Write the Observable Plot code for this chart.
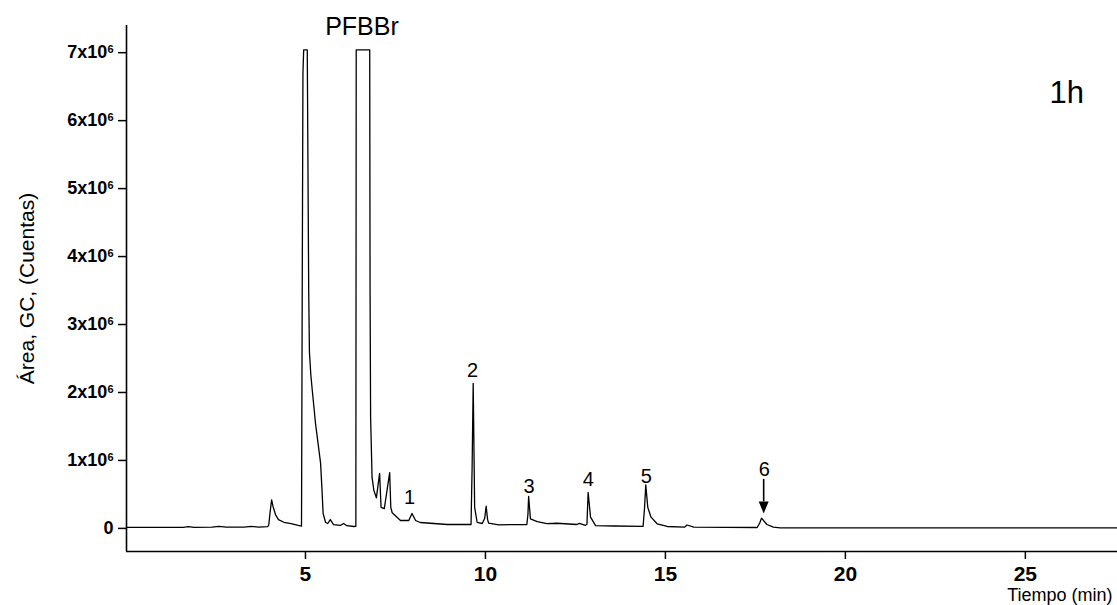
<!DOCTYPE html>
<html>
<head>
<meta charset="utf-8">
<script src="https://cdn.jsdelivr.net/npm/d3@7"></script>
<script src="https://cdn.jsdelivr.net/npm/@observablehq/plot@0.6"></script>
<style>
  html, body { margin: 0; padding: 0; background: white; }
  #chart svg { display: block; }
</style>
</head>
<body>
<div id="chart"></div>
<script>
// Retention time (min) and GC area signal (x10^6 counts)
const timeMin = [
  0.03, 1.0, 1.6, 1.75, 1.9, 2.4, 2.6, 2.8, 3.3, 3.5, 3.7, 3.95, 3.98, 4.02, 4.06, 4.10, 4.17, 4.25, 4.40, 4.60, 4.80, 4.89,
  4.91, 4.93, 4.95, 5.05, 5.09, 5.11, 5.15, 5.19, 5.28, 5.42, 5.46, 5.49, 5.56, 5.62, 5.69, 5.78, 5.97, 6.06, 6.15, 6.34, 6.40,
  6.41, 6.785, 6.795, 6.81, 6.85, 6.90, 6.97, 7.06, 7.10, 7.19, 7.34, 7.37, 7.41, 7.64, 7.87, 7.96, 8.06, 8.19, 8.94,
  9.60, 9.63, 9.66, 9.70, 9.77, 9.91, 9.98, 10.02, 10.06, 10.09, 10.37,
  11.15, 11.18, 11.20, 11.25, 11.44, 11.71, 11.99, 12.54, 12.61, 12.78,
  12.82, 12.853, 12.92, 13.06, 13.56,
  14.38, 14.42, 14.454, 14.51, 14.60, 14.77, 15.05, 15.53, 15.60, 15.79,
  17.55, 17.62, 17.67, 17.82, 18.0, 18.19, 27.56
];
const signalMillions = [
  0.015, 0.015, 0.015, 0.025, 0.015, 0.02, 0.03, 0.02, 0.02, 0.03, 0.02, 0.025, 0.05, 0.25, 0.42, 0.32, 0.20, 0.13, 0.09, 0.07, 0.045, 0.035,
  3.5, 6.7, 7.04, 7.04, 3.5, 2.6, 2.25, 2.03, 1.54, 0.96, 0.56, 0.22, 0.087, 0.072, 0.13, 0.057, 0.043, 0.072, 0.04, 0.028, 0.03,
  7.04, 7.04, 3.5, 1.63, 0.75, 0.56, 0.45, 0.81, 0.31, 0.29, 0.82, 0.31, 0.23, 0.116, 0.116, 0.22, 0.116, 0.087, 0.057,
  0.057, 0.9, 2.135, 0.31, 0.087, 0.072, 0.15, 0.326, 0.13, 0.076, 0.053,
  0.057, 0.2, 0.47, 0.14, 0.10, 0.07, 0.076, 0.057, 0.075, 0.045,
  0.06, 0.53, 0.165, 0.04, 0.035,
  0.03, 0.3, 0.64, 0.31, 0.165, 0.068, 0.028, 0.018, 0.05, 0.018,
  0.013, 0.08, 0.15, 0.057, 0.018, 0.009, 0.009
];

const xTicks = [5, 10, 15, 20, 25];
const yTicks = [0, 1, 2, 3, 4, 5, 6, 7];
const xDomain = [0.028, 27.56];
const yDomain = [-0.34, 7.4];

const peakLabels = ["1", "2", "3", "4", "5", "6"];
const peakLabelTimes = [7.89, 9.64, 11.21, 12.86, 14.47, 17.75];
const peakLabelValues = [0.366, 2.234, 0.528, 0.63, 0.675, 0.778];

const reagentLabel = "PFBBr";
const reagentLabelPos = [6.57, 7.26];
const runLabel = "1h";
const runLabelPos = [26.15, 6.26];

const arrowTime = 17.73;
const arrowTop = 0.72;
const arrowBase = 0.39;
const arrowTip = 0.22;

const yLabel = "Área, GC, (Cuentas)";
const yLabelCenter = 3.53;
const xLabel = "Tiempo (min)";

const trace = timeMin.map((t, i) => ({t, v: signalMillions[i]}));
const peaks = peakLabels.map((label, i) => ({label, t: peakLabelTimes[i], v: peakLabelValues[i]}));

const arrowHead = {
  draw(ctx) {
    ctx.moveTo(0, 0);
    ctx.lineTo(-5, -12);
    ctx.lineTo(5, -12);
    ctx.closePath();
  }
};

const font = "'Liberation Sans', Arial, Helvetica, sans-serif";

const chart = Plot.plot({
  width: 1117,
  height: 605,
  marginTop: 25,
  marginBottom: 54,
  marginLeft: 126,
  marginRight: 0,
  style: {fontFamily: font, background: "white", color: "black"},
  x: {domain: xDomain},
  y: {domain: yDomain},
  marks: [
    Plot.axisX({ticks: xTicks, tickSize: 8, tickPadding: 7, tickFormat: d => String(d),
      fontSize: 21, fontWeight: "bold", strokeWidth: 1.5, label: null}),
    Plot.axisY({ticks: yTicks, tickSize: 8, tickPadding: 5,
      tickFormat: d => d === 0 ? "0" : d + "x10^",
      fontSize: 18, fontWeight: "bold", strokeWidth: 1.5, label: null}),
    Plot.ruleX([xDomain[0]], {stroke: "black", strokeWidth: 1.6}),
    Plot.ruleY([yDomain[0]], {stroke: "black", strokeWidth: 1.6}),
    Plot.line(trace, {x: "t", y: "v", stroke: "black", strokeWidth: 1.3}),
    Plot.text(peaks, {x: "t", y: "v", text: "label", fontSize: 20, lineAnchor: "bottom", fill: "black"}),
    Plot.text([reagentLabel], {x: reagentLabelPos[0], y: reagentLabelPos[1], text: d => d, fontSize: 25, lineAnchor: "bottom", fill: "black"}),
    Plot.text([runLabel], {x: runLabelPos[0], y: runLabelPos[1], text: d => d, fontSize: 31, lineAnchor: "bottom", fill: "black"}),
    Plot.ruleX([arrowTime], {y1: arrowTop, y2: arrowBase, stroke: "black", strokeWidth: 1.6}),
    Plot.dot([arrowTime], {x: d => d, y: arrowTip, symbol: arrowHead, fill: "black", stroke: "none", r: 5}),
    Plot.text([yLabel], {frameAnchor: "left", y: yLabelCenter, text: d => d, rotate: -90, dx: -93,
      fontSize: 21, lineAnchor: "bottom", textAnchor: "middle", fill: "black"}),
    Plot.text([xLabel], {frameAnchor: "bottom-right", text: d => d, dx: -5, dy: 49,
      fontSize: 18, lineAnchor: "bottom", textAnchor: "end", fill: "black"})
  ]
});

// Render the exponent as a proper superscript
d3.select(chart).selectAll("text").each(function() {
  const s = this.textContent;
  if (s.endsWith("x10^")) {
    const sel = d3.select(this);
    sel.text(s.slice(0, -1));
    sel.append("tspan").attr("font-size", "11px").attr("dy", "-5").text("6");
  }
});

document.getElementById("chart").appendChild(chart);
</script>
</body>
</html>
